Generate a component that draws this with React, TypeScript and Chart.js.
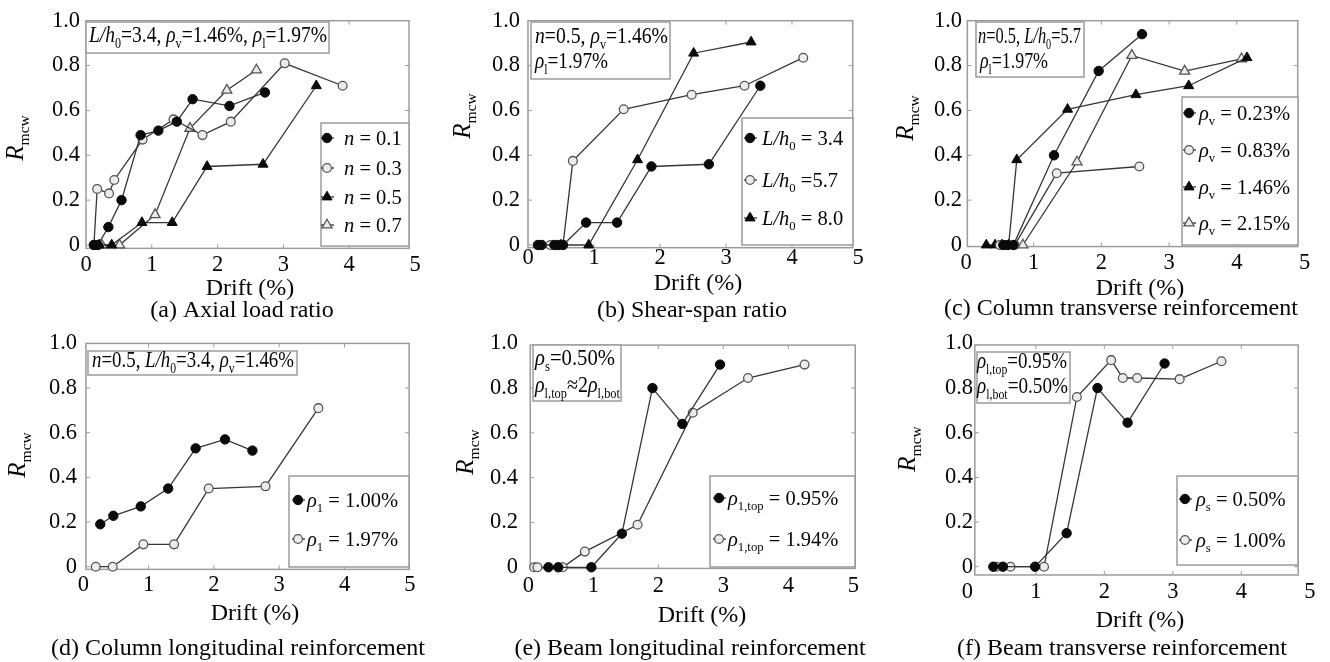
import React, { useEffect, useRef } from 'react';
import { Chart, registerables } from 'chart.js';
Chart.register(...registerables);

const SERIF = '"Liberation Serif", "Times New Roman", Times, serif';
const INK = '#050505';
const LINE = '#363636';
const FRAME = '#9c9c9c';

// ---------- tick labels ----------
const X_TICKS = [0, 1, 2, 3, 4, 5];
const X_TICK_LABELS = ['0', '1', '2', '3', '4', '5'];
const Y_TICKS = [0, 0.2, 0.4, 0.6, 0.8, 1.0];
const Y_TICK_LABELS = ['0', '0.2', '0.4', '0.6', '0.8', '1.0'];

// ---------- (a) Axial load ratio ----------
const aDrift_n01 = [0.12, 0.18, 0.34, 0.54, 0.83, 1.10, 1.38, 1.62, 2.18, 2.72];
const aR_n01 = [0, 0, 0.08, 0.20, 0.49, 0.51, 0.55, 0.65, 0.62, 0.68];
const aDrift_n03 = [0.12, 0.17, 0.35, 0.43, 0.86, 1.33, 1.77, 2.20, 3.02, 3.90];
const aR_n03 = [0, 0.25, 0.23, 0.29, 0.47, 0.56, 0.49, 0.55, 0.81, 0.71];
const aDrift_n05 = [0.20, 0.39, 0.85, 1.31, 1.84, 2.69, 3.50];
const aR_n05 = [0, 0, 0.10, 0.10, 0.35, 0.36, 0.71];
const aDrift_n07 = [0.24, 0.51, 1.05, 1.58, 2.14, 2.59];
const aR_n07 = [0, 0, 0.135, 0.52, 0.69, 0.78];

// ---------- (b) Shear-span ratio ----------
const bDrift_34 = [0.15, 0.20, 0.40, 0.46, 0.53, 0.88, 1.35, 1.87, 2.74, 3.52];
const bR_34 = [0, 0, 0, 0, 0, 0.10, 0.10, 0.35, 0.36, 0.71];
const bDrift_57 = [0.21, 0.34, 0.53, 0.68, 1.45, 2.48, 3.28, 4.17];
const bR_57 = [0, 0, 0, 0.375, 0.605, 0.67, 0.71, 0.835];
const bDrift_80 = [0.50, 0.92, 1.66, 2.51, 3.38];
const bR_80 = [0, 0, 0.38, 0.855, 0.905];

// ---------- (c) Column transverse reinforcement ----------
const cDrift_023 = [0.55, 0.62, 0.70, 1.30, 1.96, 2.60];
const cR_023 = [0, 0, 0, 0.40, 0.776, 0.94];
const cDrift_083 = [0.50, 0.58, 0.72, 1.34, 2.56];
const cR_083 = [0, 0, 0, 0.32, 0.35];
const cDrift_146 = [0.30, 0.43, 0.53, 0.63, 0.75, 1.50, 2.51, 3.29, 4.15];
const cR_146 = [0, 0, 0, 0, 0.38, 0.605, 0.67, 0.71, 0.835];
const cDrift_215 = [0.84, 1.64, 2.45, 3.23, 4.07];
const cR_215 = [0, 0.37, 0.845, 0.775, 0.83];

// ---------- (d) Column longitudinal reinforcement ----------
const dDrift_100 = [0.26, 0.46, 0.88, 1.30, 1.72, 2.17, 2.59];
const dR_100 = [0.19, 0.228, 0.27, 0.35, 0.53, 0.57, 0.52];
const dDrift_197 = [0.19, 0.45, 0.92, 1.39, 1.92, 2.79, 3.60];
const dR_197 = [0, 0, 0.10, 0.10, 0.35, 0.36, 0.71];

// ---------- (e) Beam longitudinal reinforcement ----------
const eDrift_095 = [0.31, 0.46, 0.97, 1.44, 1.91, 2.37, 2.95];
const eR_095 = [0, 0, 0, 0.15, 0.80, 0.64, 0.905];
const eDrift_194 = [0.09, 0.14, 0.53, 0.87, 1.68, 2.53, 3.38, 4.25];
const eR_194 = [0, 0, 0, 0.07, 0.19, 0.69, 0.845, 0.905];

// ---------- (f) Beam transverse reinforcement ----------
const fDrift_050 = [0.38, 0.52, 0.99, 1.45, 1.90, 2.34, 2.88];
const fR_050 = [0, 0, 0, 0.15, 0.80, 0.645, 0.91];
const fDrift_100 = [0.43, 0.63, 1.12, 1.60, 2.10, 2.27, 2.48, 3.10, 3.71];
const fR_100 = [0, 0, 0, 0.76, 0.925, 0.845, 0.845, 0.84, 0.92];

// ---------- texts ----------
type Seg = [string, string];
const DRIFT_TITLE = 'Drift (%)';
const R_TITLE: Seg[] = [['R', 'i'], ['mcw', 's']];

// ---------- layout ----------
const COL_X = [0, 443, 886];
const ROW_Y = [0, 331];
const CELL_W = 444;
const CELL_H = 331;
const X_MIN = -0.1, X_MAX = 5.1, Y_MIN = -0.05, Y_MAX = 1.02;

type MarkKind = 'fc' | 'oc' | 'ft' | 'ot';
const MARK: Record<MarkKind, { style: string; r: number; bg: string; bd: string; bw: number }> = {
  fc: { style: 'circle', r: 4.7, bg: '#0a0a0a', bd: '#0a0a0a', bw: 1 },
  oc: { style: 'circle', r: 4.4, bg: '#ececec', bd: '#555555', bw: 1.3 },
  ft: { style: 'triangle', r: 5.8, bg: '#0a0a0a', bd: '#0a0a0a', bw: 1 },
  ot: { style: 'triangle', r: 5.8, bg: '#ececec', bd: '#555555', bw: 1.3 },
};

interface Series { label: Seg[]; x: number[]; y: number[]; mark: MarkKind }
interface NoteLine { segs: Seg[]; x: number; base: number; w: number }
interface Panel {
  col: number; row: number;
  x0: number; xu: number; y0: number; yu: number;
  frame: [number, number, number, number];
  series: Series[];
  noteBox: [number, number, number, number];
  notes: NoteLine[];
  legBox: [number, number, number, number];
  legMx: number; legTx: number; legYs: number[];
  yLabRight: number; xLabY: number;
  drift: [number, number];
  caption: string; capPos: [number, number];
  rPos: [number, number];
}

const PANELS: Panel[] = [
  {
    col: 0, row: 0, x0: 86, xu: 65.8, y0: 245, yu: 224.3, frame: [0, 4.91, -0.015, 1.0],
    series: [
      { label: [['n', 'i'], [' = 0.1', '']], x: aDrift_n01, y: aR_n01, mark: 'fc' },
      { label: [['n', 'i'], [' = 0.3', '']], x: aDrift_n03, y: aR_n03, mark: 'oc' },
      { label: [['n', 'i'], [' = 0.5', '']], x: aDrift_n05, y: aR_n05, mark: 'ft' },
      { label: [['n', 'i'], [' = 0.7', '']], x: aDrift_n07, y: aR_n07, mark: 'ot' },
    ],
    noteBox: [86, 22, 329, 53],
    notes: [{ segs: [['L/h', 'i'], ['0', 's'], ['=3.4, ', ''], ['ρ', 'i'], ['v', 's'], ['=1.46%, ', ''], ['ρ', 'i'], ['l', 's'], ['=1.97%', '']], x: 89, base: 42, w: 238 }],
    legBox: [321, 123, 409, 246], legMx: 327, legTx: 344, legYs: [138, 168, 197, 225],
    yLabRight: 80, xLabY: 265, drift: [250, 295], caption: '(a) Axial load ratio', capPos: [242, 317], rPos: [23, 138],
  },
  {
    col: 1, row: 0, x0: 528, xu: 66, y0: 245, yu: 224.3, frame: [0, 4.92, -0.012, 1.0],
    series: [
      { label: [['L/h', 'i'], ['0', 's'], [' = 3.4', '']], x: bDrift_34, y: bR_34, mark: 'fc' },
      { label: [['L/h', 'i'], ['0', 's'], [' =5.7', '']], x: bDrift_57, y: bR_57, mark: 'oc' },
      { label: [['L/h', 'i'], ['0', 's'], [' = 8.0', '']], x: bDrift_80, y: bR_80, mark: 'ft' },
    ],
    noteBox: [531, 22, 670, 79],
    notes: [
      { segs: [['n', 'i'], ['=0.5, ', ''], ['ρ', 'i'], ['v', 's'], ['=1.46%', '']], x: 535, base: 43, w: 133 },
      { segs: [['ρ', 'i'], ['l', 's'], ['=1.97%', '']], x: 535, base: 68, w: 73 },
    ],
    legBox: [742, 118, 853, 245], legMx: 750, legTx: 762, legYs: [138, 180, 218],
    yLabRight: 520, xLabY: 258, drift: [698, 290], caption: '(b) Shear-span ratio', capPos: [692, 317], rPos: [470, 116],
  },
  {
    col: 2, row: 0, x0: 966, xu: 67.7, y0: 245, yu: 224.3, frame: [0.02, 4.9, -0.007, 1.0],
    series: [
      { label: [['ρ', 'i'], ['v', 's'], [' = 0.23%', '']], x: cDrift_023, y: cR_023, mark: 'fc' },
      { label: [['ρ', 'i'], ['v', 's'], [' = 0.83%', '']], x: cDrift_083, y: cR_083, mark: 'oc' },
      { label: [['ρ', 'i'], ['v', 's'], [' = 1.46%', '']], x: cDrift_146, y: cR_146, mark: 'ft' },
      { label: [['ρ', 'i'], ['v', 's'], [' = 2.15%', '']], x: cDrift_215, y: cR_215, mark: 'ot' },
    ],
    noteBox: [976, 22, 1084, 77],
    notes: [
      { segs: [['n', 'i'], ['=0.5, ', ''], ['L/h', 'i'], ['0', 's'], ['=5.7', '']], x: 978, base: 43, w: 103 },
      { segs: [['ρ', 'i'], ['l', 's'], ['=1.97%', '']], x: 980, base: 68, w: 68 },
    ],
    legBox: [1182, 97, 1298, 245], legMx: 1189, legTx: 1199, legYs: [113, 150, 187, 223],
    yLabRight: 962, xLabY: 263, drift: [1140, 295], caption: '(c) Column transverse reinforcement', capPos: [1121, 315], rPos: [913, 118],
  },
  {
    col: 0, row: 1, x0: 83.3, xu: 65.3, y0: 566.7, yu: 223.3, frame: [0.04, 4.99, -0.012, 1.0],
    series: [
      { label: [['ρ', 'i'], ['1', 's'], [' = 1.00%', '']], x: dDrift_100, y: dR_100, mark: 'fc' },
      { label: [['ρ', 'i'], ['1', 's'], [' = 1.97%', '']], x: dDrift_197, y: dR_197, mark: 'oc' },
    ],
    noteBox: [88, 351, 297, 375],
    notes: [{ segs: [['n', 'i'], ['=0.5, ', ''], ['L/h', 'i'], ['0', 's'], ['=3.4, ', ''], ['ρ', 'i'], ['v', 's'], ['=1.46%', '']], x: 92, base: 367, w: 202 }],
    legBox: [289, 476, 409, 567], legMx: 298, legTx: 307, legYs: [500, 539],
    yLabRight: 77, xLabY: 585, drift: [255, 620], caption: '(d) Column longitudinal reinforcement', capPos: [238, 655], rPos: [25, 455],
  },
  {
    col: 1, row: 1, x0: 528.3, xu: 65, y0: 567.3, yu: 224, frame: [0.03, 5.03, -0.005, 0.992],
    series: [
      { label: [['ρ', 'i'], ['1,top', 's'], [' = 0.95%', '']], x: eDrift_095, y: eR_095, mark: 'fc' },
      { label: [['ρ', 'i'], ['1,top', 's'], [' = 1.94%', '']], x: eDrift_194, y: eR_194, mark: 'oc' },
    ],
    noteBox: [533, 345, 621, 401],
    notes: [
      { segs: [['ρ', 'i'], ['s', 's'], ['=0.50%', '']], x: 535, base: 365, w: 80 },
      { segs: [['ρ', 'i'], ['l,top', 's'], ['≈2', ''], ['ρ', 'i'], ['l,bot', 's']], x: 535, base: 392, w: 85 },
    ],
    legBox: [710, 476, 855, 567], legMx: 719, legTx: 728, legYs: [498, 539],
    yLabRight: 518, xLabY: 586, drift: [702, 622], caption: '(e) Beam longitudinal reinforcement', capPos: [690, 655], rPos: [473, 452],
  },
  {
    col: 2, row: 1, x0: 967.3, xu: 68.5, y0: 566.7, yu: 223.3, frame: [0.11, 4.83, -0.037, 0.993],
    series: [
      { label: [['ρ', 'i'], ['s', 's'], [' = 0.50%', '']], x: fDrift_050, y: fR_050, mark: 'fc' },
      { label: [['ρ', 'i'], ['s', 's'], [' = 1.00%', '']], x: fDrift_100, y: fR_100, mark: 'oc' },
    ],
    noteBox: [977, 352, 1070, 403],
    notes: [
      { segs: [['ρ', 'i'], ['l,top', 's'], ['=0.95%', '']], x: 977, base: 368, w: 90 },
      { segs: [['ρ', 'i'], ['l,bot', 's'], ['=0.50%', '']], x: 977, base: 393, w: 91 },
    ],
    legBox: [1177, 476, 1298, 565], legMx: 1185, legTx: 1196, legYs: [499, 540],
    yLabRight: 973, xLabY: 592, drift: [1140, 627], caption: '(f) Beam transverse reinforcement', capPos: [1122, 655], rPos: [915, 449],
  },
];

// ---------- drawing helpers ----------
function segFont(flags: string, size: number) {
  const sz = flags.includes('s') ? size * 0.62 : size;
  return `${flags.includes('i') ? 'italic ' : ''}${sz}px ${SERIF}`;
}
function richWidth(ctx: CanvasRenderingContext2D, segs: Seg[], size: number) {
  let w = 0;
  for (const [t, f] of segs) { ctx.font = segFont(f, size); w += ctx.measureText(t).width; }
  return w;
}
function drawRich(ctx: CanvasRenderingContext2D, segs: Seg[], x: number, y: number, size: number, align: 'left' | 'center', width?: number) {
  const nat = richWidth(ctx, segs, size);
  const sx = width ? width / nat : 1;
  const total = nat * sx;
  const start = align === 'center' ? x - total / 2 : x;
  ctx.save();
  ctx.translate(start, y);
  ctx.scale(sx, 1);
  ctx.fillStyle = INK;
  ctx.textAlign = 'left';
  ctx.textBaseline = 'alphabetic';
  let cx = 0;
  for (const [t, f] of segs) {
    ctx.font = segFont(f, size);
    ctx.fillText(t, cx, f.includes('s') ? size * 0.24 : 0);
    cx += ctx.measureText(t).width;
  }
  ctx.restore();
}
function drawMarker(ctx: CanvasRenderingContext2D, kind: MarkKind, x: number, y: number) {
  const m = MARK[kind];
  ctx.save();
  ctx.beginPath();
  if (m.style === 'circle') {
    ctx.arc(x, y, m.r, 0, Math.PI * 2);
  } else {
    let a = 0;
    ctx.moveTo(x + Math.sin(a) * m.r, y - Math.cos(a) * m.r);
    a += (2 * Math.PI) / 3;
    ctx.lineTo(x + Math.sin(a) * m.r, y - Math.cos(a) * m.r);
    a += (2 * Math.PI) / 3;
    ctx.lineTo(x + Math.sin(a) * m.r, y - Math.cos(a) * m.r);
    ctx.closePath();
  }
  ctx.fillStyle = m.bg;
  ctx.fill();
  ctx.lineWidth = m.bw;
  ctx.strokeStyle = m.bd;
  ctx.stroke();
  ctx.restore();
}

function makeDecor(p: Panel, ox: number, oy: number) {
  return {
    id: 'decor' + p.col + p.row,
    beforeDatasetsDraw(chart: any) {
      const ctx: CanvasRenderingContext2D = chart.ctx;
      const xs = chart.scales.x, ys = chart.scales.y;
      const l = xs.getPixelForValue(p.frame[0]);
      const r = xs.getPixelForValue(p.frame[1]);
      const b = ys.getPixelForValue(p.frame[2]);
      const t = ys.getPixelForValue(p.frame[3]);
      ctx.save();
      ctx.strokeStyle = FRAME;
      ctx.lineWidth = 1.5;
      ctx.strokeRect(l, t, r - l, b - t);
      ctx.lineWidth = 1;
      ctx.beginPath();
      for (const v of X_TICKS) {
        const px = xs.getPixelForValue(v);
        if (px > l + 2 && px < r - 2) {
          ctx.moveTo(px, b); ctx.lineTo(px, b - 4);
          ctx.moveTo(px, t); ctx.lineTo(px, t + 4);
        }
      }
      for (const v of Y_TICKS) {
        const py = ys.getPixelForValue(v);
        if (py > t + 2 && py < b - 2) {
          ctx.moveTo(l, py); ctx.lineTo(l + 4, py);
          ctx.moveTo(r, py); ctx.lineTo(r - 4, py);
        }
      }
      ctx.stroke();
      ctx.restore();
    },
    afterDatasetsDraw(chart: any) {
      const ctx: CanvasRenderingContext2D = chart.ctx;
      const xs = chart.scales.x, ys = chart.scales.y;
      ctx.save();
      // tick labels
      ctx.fillStyle = INK;
      ctx.font = `22.5px ${SERIF}`;
      ctx.textAlign = 'center';
      ctx.textBaseline = 'middle';
      X_TICKS.forEach((v, i) => ctx.fillText(X_TICK_LABELS[i], xs.getPixelForValue(v), p.xLabY - oy));
      ctx.textAlign = 'right';
      Y_TICKS.forEach((v, i) => ctx.fillText(Y_TICK_LABELS[i], p.yLabRight - ox, ys.getPixelForValue(v)));
      // axis titles and caption
      ctx.textAlign = 'center';
      ctx.textBaseline = 'alphabetic';
      ctx.font = `24px ${SERIF}`;
      ctx.fillText(DRIFT_TITLE, p.drift[0] - ox, p.drift[1] - oy);
      ctx.fillText(p.caption, p.capPos[0] - ox, p.capPos[1] - oy);
      ctx.save();
      ctx.translate(p.rPos[0] - ox, p.rPos[1] - oy);
      ctx.rotate(-Math.PI / 2);
      drawRich(ctx, R_TITLE, 0, 0, 25, 'center');
      ctx.restore();
      // note box
      const nb = p.noteBox;
      ctx.fillStyle = '#ffffff';
      ctx.fillRect(nb[0] - ox, nb[1] - oy, nb[2] - nb[0], nb[3] - nb[1]);
      ctx.strokeStyle = FRAME;
      ctx.lineWidth = 1.5;
      ctx.strokeRect(nb[0] - ox, nb[1] - oy, nb[2] - nb[0], nb[3] - nb[1]);
      for (const n of p.notes) drawRich(ctx, n.segs, n.x - ox, n.base - oy, 23, 'left', n.w);
      // legend
      const lb = p.legBox;
      ctx.fillStyle = '#ffffff';
      ctx.fillRect(lb[0] - ox, lb[1] - oy, lb[2] - lb[0], lb[3] - lb[1]);
      ctx.strokeStyle = FRAME;
      ctx.lineWidth = 1.5;
      ctx.strokeRect(lb[0] - ox, lb[1] - oy, lb[2] - lb[0], lb[3] - lb[1]);
      p.series.forEach((s, i) => {
        const y = p.legYs[i] - oy;
        const mx = p.legMx - ox;
        ctx.strokeStyle = LINE;
        ctx.lineWidth = 1.3;
        ctx.beginPath();
        ctx.moveTo(mx - 6, y); ctx.lineTo(mx + 7, y);
        ctx.stroke();
        drawMarker(ctx, s.mark, mx, y);
        drawRich(ctx, s.label, p.legTx - ox, y + 7, 20.5, 'left');
      });
      ctx.restore();
    },
  };
}

function PanelChart({ p }: { p: Panel }) {
  const ref = useRef<HTMLCanvasElement>(null);
  useEffect(() => {
    const ox = COL_X[p.col], oy = ROW_Y[p.row];
    const left = p.x0 + X_MIN * p.xu - ox;
    const right = ox + CELL_W - (p.x0 + X_MAX * p.xu);
    const top = p.y0 - Y_MAX * p.yu - oy;
    const bottom = oy + CELL_H - (p.y0 - Y_MIN * p.yu);
    const chart = new Chart(ref.current as HTMLCanvasElement, {
      type: 'line',
      data: {
        datasets: p.series.map((s) => ({
          data: s.x.map((x, i) => ({ x, y: s.y[i] })),
          borderColor: LINE,
          borderWidth: 1.3,
          showLine: true,
          tension: 0,
          fill: false,
          pointStyle: MARK[s.mark].style as any,
          pointRadius: MARK[s.mark].r,
          pointBackgroundColor: MARK[s.mark].bg,
          pointBorderColor: MARK[s.mark].bd,
          pointBorderWidth: MARK[s.mark].bw,
          clip: false as any,
        })),
      },
      options: {
        responsive: false,
        maintainAspectRatio: false,
        animation: false,
        events: [],
        layout: { padding: { left, right, top, bottom } },
        scales: {
          x: { type: 'linear', min: X_MIN, max: X_MAX, display: false },
          y: { type: 'linear', min: Y_MIN, max: Y_MAX, display: false },
        },
        plugins: { legend: { display: false }, tooltip: { enabled: false }, title: { display: false } },
      },
      plugins: [makeDecor(p, ox, oy)],
    });
    return () => chart.destroy();
  }, [p]);
  return (
    <canvas
      ref={ref}
      width={CELL_W}
      height={CELL_H}
      style={{ position: 'absolute', left: COL_X[p.col], top: ROW_Y[p.row], width: CELL_W, height: CELL_H }}
    />
  );
}

export default function App() {
  return (
    <div style={{ position: 'fixed', left: 0, top: 0, width: 1330, height: 662, background: '#ffffff', overflow: 'hidden' }}>
      {PANELS.map((p, i) => <PanelChart key={i} p={p} />)}
    </div>
  );
}
